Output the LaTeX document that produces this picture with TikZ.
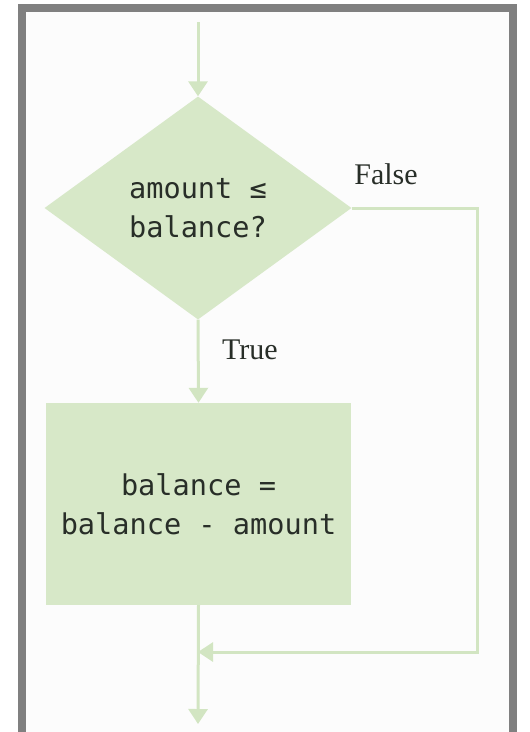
\documentclass[tikz,border=0pt]{standalone}
\usepackage{fontspec}
\setmainfont{Liberation Serif}
\setmonofont{DejaVu Sans Mono}
\usetikzlibrary{shapes.geometric,arrows.meta}
\definecolor{boxfill}{RGB}{215,232,200}
\definecolor{flowline}{RGB}{210,229,194}
\definecolor{framegrey}{RGB}{128,128,128}
\definecolor{paper}{RGB}{252,252,252}
\definecolor{ink}{RGB}{40,46,40}
\tikzset{
  flow/.style={draw=flowline, line width=3pt, -{Triangle[width=19pt,length=15pt]}},
  decision/.style={diamond, fill=boxfill, inner sep=0pt, aspect=1.37,
    minimum width=307pt, minimum height=223pt, align=center,
    font=\ttfamily\fontsize{28.6}{39}\selectfont, text=ink},
  process/.style={rectangle, fill=boxfill, inner sep=0pt,
    minimum width=305pt, minimum height=202pt, align=center,
    font=\ttfamily\fontsize{28.6}{39}\selectfont, text=ink},
  lbl/.style={font=\fontsize{30}{34}\selectfont, text=ink, inner sep=0pt}
}
\begin{document}
\begin{tikzpicture}[x=1pt,y=-1pt]
\useasboundingbox (0,0) rectangle (530,732);
\fill[framegrey] (18,4) rectangle (517,732);
\fill[paper] (26,12) rectangle (509,732);
\coordinate (start) at (198,22);
\node[decision] (dec) at (198,208) {amount ≤\\balance?};
\node[process] (proc) at (198.5,504) {balance =\\balance - amount};
\coordinate (corner2) at (477,652);
\coordinate (merge) at (198,652);
\coordinate (finish) at (198,724);
\node[lbl] (false) at (386,174) {False};
\node[lbl] (true) at (250,350) {True};
\draw[flow] (start) -- (dec.north);
\draw[flow] (dec.south) -- (proc.north);
\draw[flow, line join=miter] (dec.east) -| (corner2) -- (merge);
\draw[flow] (proc.south) -- (finish);
\end{tikzpicture}
\end{document}
